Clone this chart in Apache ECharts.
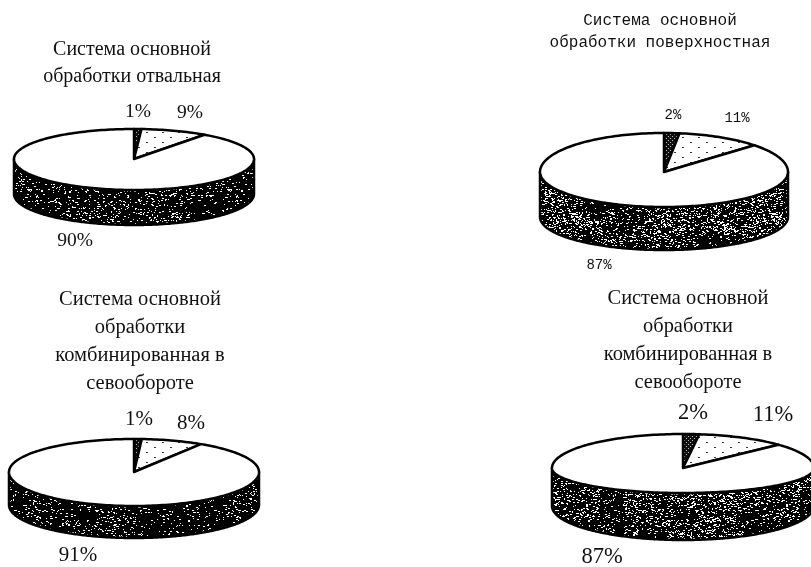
<!DOCTYPE html>
<html>
<head>
<meta charset="utf-8">
<style>html,body{margin:0;padding:0;background:#fff}#chart{width:811px;height:567px}</style>
<script src="https://cdn.jsdelivr.net/npm/echarts@6/dist/echarts.min.js"></script>
</head>
<body>
<div id="chart"></div>
<script>
// Shares of each tillage system, in percent, clockwise from twelve o'clock
const sharesPloughing = [1, 9, 90];
const sharesSurface = [2, 11, 87];
const sharesCombinedA = [1, 8, 91];
const sharesCombinedB = [2, 11, 87];

const titlePloughing = 'Система основной\nобработки отвальная';
const titleSurface = 'Система основной\nобработки поверхностная';
const titleCombinedA = 'Система основной\nобработки\nкомбинированная в\nсевообороте';
const titleCombinedB = 'Система основной\nобработки\nкомбинированная в\nсевообороте';

const serif = '"Liberation Serif", serif';
const mono = '"Liberation Mono", monospace';

// Disc geometry and label placement for each pie
const pies = [
  { shares: sharesPloughing, title: titlePloughing, cx: 134, cy: 159, rx: 120, ryBack: 30, ryFront: 31, ryBase: 31, depth: 35,
    titleX: 132, titleY: 36, titleSize: 20, titleLine: 27, titleFont: serif,
    labelFont: serif, labelSize: 19.5, labels: [[138, 112], [190, 113], [75, 241]], grain: 0 },
  { shares: sharesSurface, title: titleSurface, cx: 664, cy: 172, rx: 124, ryBack: 39, ryFront: 35, ryBase: 33, depth: 45,
    titleX: 660, titleY: 10, titleSize: 16, titleLine: 22, titleFont: mono,
    labelFont: mono, labelSize: 14, labels: [[673, 115], [737, 118], [599, 265]], grain: 1 },
  { shares: sharesCombinedA, title: titleCombinedA, cx: 134, cy: 472, rx: 125, ryBack: 33, ryFront: 34, ryBase: 33, depth: 33,
    titleX: 140, titleY: 286, titleSize: 20.5, titleLine: 28, titleFont: serif,
    labelFont: serif, labelSize: 21, labels: [[139, 419], [191, 423], [78, 555]], grain: 0 },
  { shares: sharesCombinedB, title: titleCombinedB, cx: 683, cy: 468, rx: 131, ryBack: 34, ryFront: 25, ryBase: 34, depth: 38,
    titleX: 688, titleY: 285, titleSize: 20.4, titleLine: 28, titleFont: serif,
    labelFont: serif, labelSize: 22.5, labels: [[693, 413], [773, 415], [602, 557]], grain: 1 }
];

// Deterministic hash used for the printed grain of the side wall
function hash(x, y) {
  const s = Math.sin(x * 127.1 + y * 311.7) * 43758.5453;
  return s - Math.floor(s);
}
function grainTile(light) {
  const size = 200, c = document.createElement('canvas');
  c.width = c.height = size;
  const g = c.getContext('2d');
  g.fillStyle = '#000';
  g.fillRect(0, 0, size, size);
  g.fillStyle = '#fff';
  for (let y = 0; y < size; y++) {
    for (let x = 0; x < size; x++) {
      const blob = hash(Math.floor(x / 24), Math.floor(y / 12));
      if (hash(x, y) < light * (0.25 + 0.75 * blob)) {
        g.fillRect(x, y, hash(y, x) > 0.6 ? 2 : 1, 1);
      }
    }
  }
  return c;
}
function hatchTile() {
  const c = document.createElement('canvas');
  c.width = c.height = 4;
  const g = c.getContext('2d');
  g.fillStyle = '#111';
  g.fillRect(0, 0, 4, 4);
  g.fillStyle = '#bbb';
  g.fillRect(0, 0, 1, 1);
  g.fillRect(2, 2, 1, 1);
  return c;
}
function dotTile() {
  const c = document.createElement('canvas');
  c.width = 16; c.height = 10;
  const g = c.getContext('2d');
  g.fillStyle = '#fff';
  g.fillRect(0, 0, 16, 10);
  g.fillStyle = '#333';
  g.fillRect(2, 2, 2, 1);
  g.fillRect(10, 7, 2, 1);
  return c;
}
const sideFills = [
  { image: grainTile(0.12), repeat: 'repeat' },
  { image: grainTile(0.22), repeat: 'repeat' }
];
const faceFills = [
  { image: hatchTile(), repeat: 'repeat' },
  { image: dotTile(), repeat: 'repeat' },
  '#fff'
];

// Point on the disc rim at an angle measured clockwise from the top
function rim(p, a) {
  const ry = Math.cos(a) > 0 ? p.ryBack : p.ryFront;
  return [p.cx + p.rx * Math.sin(a), p.cy - ry * Math.cos(a)];
}
// Matching point on the lower edge of the side wall
function base(p, a) {
  return [p.cx + p.rx * Math.sin(a), p.cy + p.depth - p.ryBase * Math.cos(a)];
}

function renderSlice(params, api) {
  const p = pies[params.seriesIndex];
  const i = params.dataIndex;
  const before = p.shares.slice(0, i).reduce((s, v) => s + v, 0);
  const value = api.value(0);
  const total = p.shares.reduce((s, v) => s + v, 0);
  const a0 = before / total * 2 * Math.PI;
  const a1 = (before + value) / total * 2 * Math.PI;
  const steps = Math.max(2, Math.ceil((a1 - a0) * 40));
  const children = [];

  // Side wall: only the part of the slice facing the viewer
  const s0 = Math.max(a0, Math.PI / 2), s1 = Math.min(a1, Math.PI * 1.5);
  if (s1 > s0) {
    const upper = [], lower = [];
    for (let k = 0; k <= steps; k++) {
      const a = s0 + (s1 - s0) * k / steps;
      upper.push(rim(p, a));
      lower.unshift(base(p, a));
    }
    children.push({
      type: 'polygon',
      shape: { points: upper.concat(lower) },
      style: { fill: sideFills[p.grain], stroke: '#000', lineWidth: 2.5, lineJoin: 'round' }
    });
  }

  // Top face of the slice
  const face = [[p.cx, p.cy]];
  for (let k = 0; k <= steps; k++) face.push(rim(p, a0 + (a1 - a0) * k / steps));
  children.push({
    type: 'polygon',
    shape: { points: face },
    style: { fill: faceFills[i], stroke: '#000', lineWidth: 2.5, lineJoin: 'round' }
  });

  // Percentage label stated from the slice's own value
  children.push({
    type: 'text',
    style: {
      x: p.labels[i][0], y: p.labels[i][1],
      text: value + '%',
      fill: '#111',
      font: p.labelSize + 'px ' + p.labelFont,
      align: 'center', verticalAlign: 'middle'
    }
  });
  return { type: 'group', children };
}

const chart = echarts.init(document.getElementById('chart'), null, { renderer: 'canvas' });
chart.setOption({
  animation: false,
  backgroundColor: '#fff',
  tooltip: { show: false },
  title: pies.map(p => ({
    text: p.title,
    left: p.titleX,
    top: p.titleY,
    textAlign: 'center',
    padding: 0,
    textStyle: {
      fontFamily: p.titleFont, fontSize: p.titleSize, fontWeight: 'normal',
      color: '#111', lineHeight: p.titleLine, align: 'center'
    }
  })),
  series: pies.map(p => ({
    type: 'custom',
    coordinateSystem: 'none',
    silent: true,
    data: p.shares,
    renderItem: renderSlice
  }))
});
</script>
</body>
</html>
